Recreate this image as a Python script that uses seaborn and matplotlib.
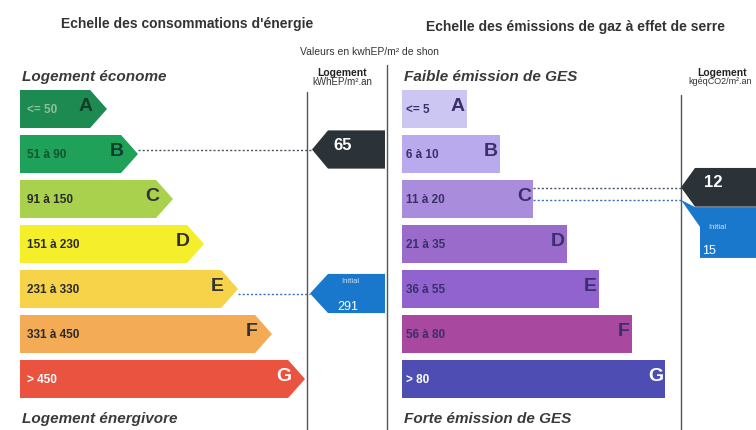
import matplotlib
matplotlib.use("Agg")
import matplotlib.pyplot as plt
import seaborn as sns
import numpy as np
from matplotlib.patches import Polygon

letters = ["A", "B", "C", "D", "E", "F", "G"]

energy_ranges = ["<= 50", "51 à 90", "91 à 150", "151 à 230", "231 à 330", "331 à 450", "> 450"]
energy_upper = [50, 90, 150, 230, 330, 450]
energy_len = [70, 101, 136, 167, 201, 235, 268]
energy_colors = ["#1d8a52", "#1fa159", "#a9d14d", "#f5ee2a", "#f6d348", "#f3ac55", "#e9533f"]
energy_value = 65
energy_initial = 291

ges_ranges = ["<= 5", "6 à 10", "11 à 20", "21 à 35", "36 à 55", "56 à 80", "> 80"]
ges_upper = [5, 10, 20, 35, 55, 80]
ges_len = [65, 98, 131, 165, 197, 230, 263]
ges_colors = ["#ccc6f3", "#b9aaee", "#a98ddc", "#9a6bcb", "#9063cf", "#a8489f", "#4d4db3"]
ges_value = 12
ges_initial = 15

W, H = 756, 430
sns.set_style("white")
plt.rcParams["font.family"] = ["Liberation Sans", "DejaVu Sans"]

fig = plt.figure(figsize=(W / 100, H / 100), dpi=100)
fig.patch.set_facecolor("white")

# overlay in pixel units for frame lines and headings
ov = fig.add_axes([0, 0, 1, 1], zorder=0)
ov.set_xlim(0, W)
ov.set_ylim(H, 0)
ov.axis("off")


def panel_axes(left, width):
    ax = fig.add_axes([left / W, 1 - 401.5 / H, width / W, 315 / H], zorder=1)
    ax.patch.set_alpha(0)
    return ax


def marker(ax, x_tip, x_body, x_right, yc, h, color, z=3):
    pts = [(x_tip, yc), (x_body, yc - h / 2), (x_right, yc - h / 2),
           (x_right, yc + h / 2), (x_body, yc + h / 2)]
    ax.add_patch(Polygon(pts, closed=True, color=color, lw=0, zorder=z, clip_on=False))


dark = "#2b3238"
blue = "#1a78cc"
dots = (0, (1.5, 1.5))

# ---------------- energy panel ----------------
ax1 = panel_axes(20, 365)
sns.barplot(x=energy_len, y=letters, hue=letters, palette=energy_colors, orient="h",
            width=0.85, saturation=1, legend=False, linewidth=0, ax=ax1)
tip = 17
for i, (L, c) in enumerate(zip(energy_len, energy_colors)):
    ax1.add_patch(Polygon([(L, i - 0.425), (L + tip, i), (L, i + 0.425)],
                          closed=True, color=c, lw=0))
    txt = "white" if i == 6 else ("#8fbf9c" if i == 0 else ("#0f5530" if i == 1 else "#2a2a2a"))
    let = "white" if i == 6 else ("#123d28" if i < 2 else "#333333")
    ax1.text(7, i + 0.03, energy_ranges[i], ha="left", va="center", fontsize=8.5,
             fontweight="bold", color=txt)
    ax1.text(L + 3, i - 0.05, letters[i], ha="right", va="center", fontsize=14,
             fontweight="bold", color=let)

cur = int(np.searchsorted(energy_upper, energy_value, side="left"))
ini = int(np.searchsorted(energy_upper, energy_initial, side="left"))
ax1.plot([energy_len[cur] + tip, 292], [cur - 0.1, cur - 0.1], ls=dots, lw=1, color="#4a5560")
ax1.plot([energy_len[ini] + tip, 290], [ini + 0.1, ini + 0.1], ls=dots, lw=1, color="#3a70b0")
marker(ax1, 292, 308, 365, cur - 0.1, 0.85, dark)
ax1.text(323, cur - 0.18, str(energy_value), ha="center", va="center", fontsize=12,
         fontweight="bold", color="white")
marker(ax1, 290, 308, 365, ini + 0.1, 0.87, blue)
ax1.text(330, ini - 0.16, "Initial", ha="center", va="center", fontsize=5.5, color="#cfe3f7")
ax1.text(328, ini + 0.4, str(energy_initial), ha="center", va="center", fontsize=9,
         color="white")
ax1.set_xlim(0, 365)
ax1.set_ylim(6.5, -0.5)
ax1.axis("off")

# ---------------- GES panel ----------------
ax2 = panel_axes(402, 354)
sns.barplot(x=ges_len, y=letters, hue=letters, palette=ges_colors, orient="h",
            width=0.85, saturation=1, legend=False, linewidth=0, ax=ax2)
for i, L in enumerate(ges_len):
    col = "white" if i == 6 else "#3b2f6b"
    ax2.text(4, i + 0.03, ges_ranges[i], ha="left", va="center", fontsize=8.5,
             fontweight="bold", color=col)
    ax2.text(L - 2, i - 0.05, letters[i], ha="right", va="center", fontsize=14,
             fontweight="bold", color=col)

gc = int(np.searchsorted(ges_upper, ges_value, side="left"))
gi = int(np.searchsorted(ges_upper, ges_initial, side="left"))
ax2.plot([ges_len[gc], 279], [gc - 0.24, gc - 0.24], ls=dots, lw=1, color="#4a5560")
ax2.plot([ges_len[gi], 279], [gi + 0.02, gi + 0.02], ls=dots, lw=1, color="#3a70b0")
# initial value tab, partly hidden under the current value tab
yb = gi + 0.02
ax2.add_patch(Polygon([(279, yb), (293, yb + 0.16), (354, yb + 0.16), (354, yb + 1.29),
                       (298, yb + 1.29), (298, yb + 0.6)], closed=True, color=blue,
                      lw=0, zorder=2, clip_on=False))
ax2.text(315, yb + 0.62, "Initial", ha="center", va="center", fontsize=5.5, color="#cfe3f7")
ax2.text(307, yb + 1.14, str(ges_initial), ha="center", va="center", fontsize=9,
         color="white")
marker(ax2, 279, 293, 354, gc - 0.26, 0.86, dark)
ax2.text(311, gc - 0.36, str(ges_value), ha="center", va="center", fontsize=12,
         fontweight="bold", color="white")
ax2.set_xlim(0, 354)
ax2.set_ylim(6.5, -0.5)
ax2.axis("off")

# ---------------- frame and headings ----------------
for x, y0 in [(307, 92), (387, 65), (681, 95)]:
    ov.plot([x, x], [y0, H], color="#555555", lw=1)

ov.text(187, 24, "Echelle des consommations d'énergie", ha="center", va="center",
        fontsize=10, fontweight="bold", color="#333333")
ov.text(576, 27, "Echelle des émissions de gaz à effet de serre", ha="center", va="center",
        fontsize=10, fontweight="bold", color="#333333")
ov.text(300, 52, "Valeurs en kwhEP/m² de shon", ha="left", va="center", fontsize=7.5,
        color="#333333")

ov.text(22, 77, "Logement économe", ha="left", va="center", fontsize=11,
        fontstyle="italic", fontweight="bold", color="#3a3a3a")
ov.text(22, 419, "Logement énergivore", ha="left", va="center", fontsize=11,
        fontstyle="italic", fontweight="bold", color="#3a3a3a")
ov.text(404, 77, "Faible émission de GES", ha="left", va="center", fontsize=11,
        fontstyle="italic", fontweight="bold", color="#3a3a3a")
ov.text(404, 419, "Forte émission de GES", ha="left", va="center", fontsize=11,
        fontstyle="italic", fontweight="bold", color="#3a3a3a")

ov.text(342, 73, "Logement", ha="center", va="center", fontsize=7.5, fontweight="bold",
        color="#222222")
ov.text(342, 82, "kWhEP/m².an", ha="center", va="center", fontsize=7, color="#333333")
ov.text(722, 73, "Logement", ha="center", va="center", fontsize=7.5, fontweight="bold",
        color="#222222")
ov.text(720, 82, "kgéqCO2/m².an", ha="center", va="center", fontsize=6.5, color="#333333")

fig.savefig("out.png", dpi=100, facecolor="white")
